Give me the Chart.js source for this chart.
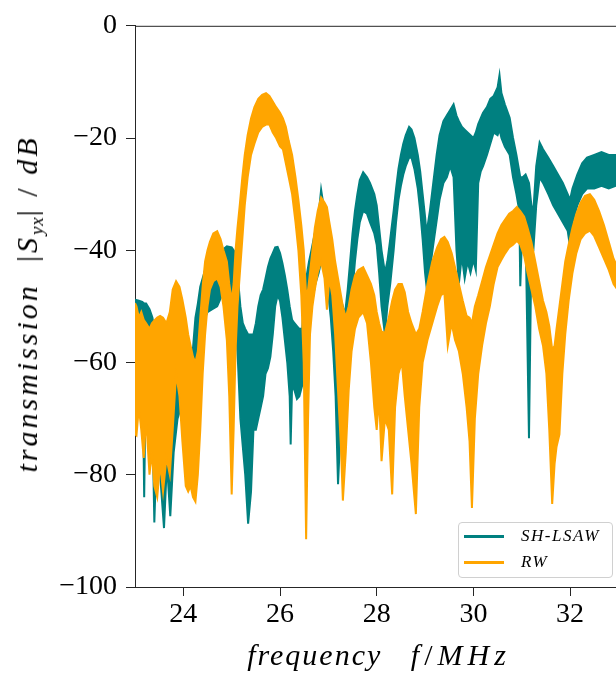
<!DOCTYPE html>
<html>
<head>
<meta charset="utf-8">
<script src="https://cdn.jsdelivr.net/npm/chart.js@4.4.0/dist/chart.umd.min.js"></script>
<style>
html, body { margin: 0; padding: 0; background: #fff; overflow: hidden; }
#wrap { position: relative; width: 616px; height: 673px; }
canvas { display: block; }
.ytitle { position: absolute; left: 29px; top: 304px; transform: translate(-50%, -50%) rotate(-90deg);
  font-family: "Liberation Serif", serif; font-style: italic; font-size: 30px; white-space: nowrap;
  letter-spacing: 3px; color: #000; }
.xtitle { position: absolute; left: 379px; top: 655px; transform: translate(-50%, -50%);
  font-family: "Liberation Serif", serif; font-style: italic; font-size: 30px; white-space: nowrap;
  letter-spacing: 2px; color: #000; }
.wide { letter-spacing: 5px; }
.up { font-style: normal; }
sub { font-size: 19px; vertical-align: -6px; letter-spacing: 1px; }
.legend { position: absolute; left: 458px; top: 522px; width: 155px; height: 56px; box-sizing: border-box;
  border: 1px solid #d0d0d0; border-radius: 4px; background: rgba(255,255,255,0.8);
  font-family: "Liberation Serif", serif; font-style: italic; font-size: 17px; color: #000; }
.item { position: absolute; left: 5px; height: 20px; width: 148px; }
.sw { position: absolute; left: 0; top: 9px; width: 40px; height: 3px; }
.lt { position: absolute; left: 57px; top: 0; line-height: 20px; letter-spacing: 1.5px; white-space: nowrap; }
</style>
</head>
<body>
<div id="wrap">
  <canvas id="c" width="616" height="673"></canvas>
  <div class="ytitle">transmission&nbsp;&nbsp;<span class="up">|</span>S<sub>yx</sub><span class="up">|</span>&nbsp;<span class="up">/</span>&nbsp;dB</div>
  <div class="xtitle">frequency&nbsp;&nbsp;&nbsp;<span class="wide">f<span class="up">/</span>MHz</span></div>
  <div class="legend">
    <div class="item" style="top:3px"><span class="sw" style="background:#008080"></span><span class="lt" id="l0"></span></div>
    <div class="item" style="top:29px"><span class="sw" style="background:#FFA500"></span><span class="lt" id="l1"></span></div>
  </div>
</div>
<script>
// ---- data ----
const seriesNames = ["SH-LSAW", "RW"];
const xTicks = [24, 26, 28, 30, 32];
const yTicks = [-100, -80, -60, -40, -20, 0];

// SH-LSAW: frequency (MHz), upper and lower edge of the noisy trace (dB)
const shFreq = [23.00,23.08,23.15,23.19,23.23,23.30,23.36,23.40,23.45,23.52,23.60,23.66,23.73,23.80,23.88,23.95,24.02,24.10,24.18,24.25,24.30,24.35,24.40,24.45,24.50,24.60,24.70,24.80,24.90,25.00,25.08,25.13,25.18,25.23,25.28,25.34,25.40,25.45,25.50,25.55,25.60,25.65,25.70,25.75,25.80,25.85,25.90,25.95,26.00,26.05,26.10,26.15,26.20,26.22,26.25,26.30,26.35,26.40,26.46,26.50,26.55,26.60,26.65,26.73,26.80,26.85,26.90,26.95,27.00,27.05,27.10,27.15,27.20,27.25,27.30,27.34,27.40,27.45,27.50,27.55,27.60,27.65,27.72,27.80,27.86,27.95,28.00,28.05,28.10,28.17,28.22,28.28,28.35,28.40,28.45,28.50,28.55,28.60,28.67,28.72,28.78,28.85,28.90,28.95,29.00,29.03,29.10,29.17,29.24,29.30,29.38,29.45,29.52,29.59,29.65,29.70,29.76,29.82,29.88,29.94,30.00,30.05,30.10,30.15,30.20,30.28,30.35,30.42,30.50,30.54,30.58,30.65,30.75,30.82,30.89,30.95,30.97,31.02,31.08,31.15,31.20,31.24,31.30,31.37,31.44,31.55,31.65,31.75,31.85,31.95,32.00,32.05,32.15,32.25,32.35,32.50,32.65,32.80,32.95];
const shHigh = [-48.8,-49,-49.2,-49.5,-49.5,-50.5,-52,-54,-55,-56,-56,-56,-55.5,-55,-55,-55.5,-56,-58,-59.5,-52,-49.5,-46.5,-45,-43.5,-43,-43.5,-44,-40,-39.3,-39.5,-40.5,-45,-50,-53,-54,-55,-55,-55,-53,-50,-48,-47,-45,-43,-41.5,-40.5,-39.5,-39.4,-40.5,-42.3,-44.5,-47,-50,-51,-52.4,-53,-53.5,-54,-54,-48,-44.6,-42,-40,-36.5,-33.5,-29.2,-32,-34.7,-38,-41,-44,-46,-47,-48.5,-50,-51.7,-47,-42,-37,-33,-30,-27.5,-26.1,-27,-28,-30,-32,-36,-40,-44,-42,-38,-33,-29,-25.5,-23,-21,-19.5,-18,-18.5,-20,-23,-26,-30,-34,-37,-33,-28,-23,-19.5,-17,-16,-15,-14,-16,-17,-18,-18.5,-19,-19.5,-20,-19,-17.5,-16.5,-15.5,-14.5,-13,-12.5,-11,-8.8,-12,-14,-16.4,-20,-23,-26,-27,-27,-26.5,-28,-32,-33,-25,-20.8,-22,-23.5,-25,-26.5,-28,-30,-31,-29,-26.5,-24.5,-23.5,-23,-22.5,-23,-23];
const shLow = [-52,-53,-55,-84,-58,-60,-70,-88.5,-75,-80,-89.5,-78,-87.4,-76,-70,-68,-72,-66,-64,-60,-57,-55,-53,-52,-51,-50.5,-50,-48,-47,-48,-52,-60,-70,-75,-80,-88.7,-83,-72,-72,-70,-68,-66,-62,-61,-59,-55,-50,-48,-49,-52,-56,-60,-66,-74.6,-64,-65,-66.5,-66,-64,-62,-56,-52,-50,-46,-44,-42,-42,-45,-48,-52,-58,-66,-81.7,-72,-64,-60,-57,-52,-47,-42,-38,-35,-33,-33.5,-35,-37,-39,-44,-50,-55,-50,-46,-40,-35,-31,-28.5,-26.5,-25,-23.5,-23.5,-25.5,-29,-33,-38,-44,-46.4,-43.5,-39,-34.7,-31,-28,-27,-25,-27,-40,-45.9,-41,-45,-42,-44,-41.7,-43.5,-28,-26,-25,-23,-21,-19,-19.5,-18.5,-20,-21.5,-23,-27,-30,-33,-46.4,-34,-36.5,-73.5,-40,-40,-32,-27,-28,-30,-32,-33.5,-35,-36.5,-39.4,-35,-32,-30,-29,-29,-28.5,-29,-28.5];

// RW: frequency (MHz), upper and lower edge of the noisy trace (dB)
const rwFreq = [23.00,23.03,23.08,23.13,23.18,23.23,23.30,23.35,23.40,23.46,23.52,23.58,23.65,23.72,23.78,23.85,23.92,23.98,24.05,24.10,24.15,24.20,24.25,24.30,24.35,24.40,24.45,24.50,24.55,24.62,24.70,24.77,24.83,24.90,24.95,25.00,25.04,25.08,25.12,25.17,25.22,25.27,25.33,25.40,25.47,25.55,25.63,25.71,25.78,25.85,25.92,26.00,26.06,26.12,26.18,26.25,26.32,26.38,26.44,26.49,26.54,26.58,26.62,26.67,26.72,26.78,26.85,26.92,26.97,27.02,27.08,27.14,27.20,27.26,27.30,27.36,27.42,27.48,27.55,27.62,27.72,27.80,27.88,27.95,28.00,28.05,28.10,28.17,28.25,28.32,28.38,28.45,28.52,28.58,28.65,28.72,28.81,28.88,28.95,29.05,29.15,29.25,29.33,29.40,29.47,29.55,29.62,29.70,29.78,29.86,29.92,29.97,30.03,30.10,30.18,30.26,30.34,30.42,30.50,30.58,30.66,30.74,30.82,30.90,30.97,31.05,31.12,31.20,31.28,31.36,31.44,31.51,31.57,31.63,31.68,31.72,31.78,31.84,31.90,31.97,32.05,32.13,32.22,32.31,32.41,32.50,32.60,32.70,32.80,32.90,32.98];
const rwHigh = [-49.4,-50,-52,-51,-52.4,-53,-54,-53,-52.5,-52,-51.7,-52,-53,-51,-47,-45.5,-46.5,-48.8,-52,-55,-57,-59,-60,-58,-52,-46.4,-42,-40,-38.5,-37,-36.6,-38,-40,-42,-46,-49,-46,-40,-36,-31.7,-27,-23,-19.5,-16.5,-14.5,-13,-12.3,-12,-12.5,-13.5,-14.5,-15.5,-16.5,-18,-20.5,-23,-27,-31,-35.5,-40,-48,-47,-44,-40,-36,-33,-30.6,-31.5,-32.3,-35,-38,-42,-45,-48,-50,-52,-50,-47,-44.5,-43.5,-43,-44.5,-46,-48,-51,-53,-54.5,-54.7,-52,-49,-47,-46,-46,-47.5,-51,-53,-55,-54,-51,-46,-42,-39.5,-38,-37.6,-38.5,-40.5,-43,-46,-49,-51.7,-52,-53,-50,-48,-45.5,-43,-41,-39,-37,-35.5,-34.5,-33.5,-33,-32.3,-33,-34,-36,-38.5,-42,-45.5,-49,-51,-53.5,-57.7,-57,-54,-50,-46,-42,-39,-36,-33.5,-31.5,-30.3,-30,-31,-33,-35.5,-38.5,-41.5,-43];
const rwLow = [-72.8,-73,-68,-72,-77,-70,-80,-76,-82,-84,-78,-83,-77,-80,-72,-62,-66,-74,-82,-83,-82,-84,-84.8,-80,-72,-62,-55,-50,-47,-45.5,-45,-46.5,-50,-56,-66,-83.5,-72,-58,-50,-44,-38,-32,-27,-23,-21,-19,-18,-17.6,-17.6,-19,-20,-21.5,-22,-24.5,-27,-30,-35,-40,-48,-60,-91.5,-70,-55,-50,-47,-44,-42,-45,-50.6,-45,-48,-55,-65,-75,-84.6,-76,-65,-58,-54,-52,-51,-53,-60,-68,-72,-66,-77.6,-70,-72,-83.5,-68,-62,-60,-66,-72,-78,-87,-68,-60,-56,-53,-50,-48,-47.6,-57,-53,-56,-58,-62,-68,-74,-85.9,-70,-62,-57,-53,-50,-46,-43,-41.7,-40.5,-39.5,-39,-38.3,-39,-41,-44,-47,-50,-54,-57,-62,-72,-85.2,-78,-75,-72.8,-62,-55,-49,-44,-40.5,-38,-37,-36.5,-37.5,-39.5,-41.5,-43.5,-46,-47];

// ---- chart ----
const TEAL = "#008080", ORANGE = "#FFA500", AXIS = "#262626";
const pts = (fs, vs) => fs.map((f, i) => ({ x: f, y: vs[i] }));
const band = (fs, hi, lo, color, order) => [
  { data: pts(fs, hi), borderColor: color, borderWidth: 2, pointRadius: 0, tension: 0, fill: false, order: order },
  { data: pts(fs, lo), borderColor: color, borderWidth: 2, pointRadius: 0, tension: 0, fill: "-1", backgroundColor: color, order: order }
];

document.getElementById("l0").textContent = seriesNames[0];
document.getElementById("l1").textContent = seriesNames[1];

const topSpine = {
  id: "topSpine",
  afterDraw(chart) {
    const { ctx, chartArea } = chart;
    ctx.save();
    ctx.strokeStyle = AXIS; ctx.lineWidth = 1;
    ctx.beginPath();
    ctx.moveTo(chartArea.left, chartArea.top + 0.5);
    ctx.lineTo(chartArea.right, chartArea.top + 0.5);
    ctx.stroke();
    ctx.restore();
  }
};

const tickFont = { family: "Liberation Serif", size: 28 };
const minus = v => (v < 0 ? "\u2212" + Math.abs(v) : String(v));

new Chart(document.getElementById("c"), {
  type: "line",
  data: { datasets: [...band(shFreq, shHigh, shLow, TEAL, 2), ...band(rwFreq, rwHigh, rwLow, ORANGE, 1)] },
  options: {
    responsive: false, animation: false, events: [],
    layout: { padding: { top: 20, right: 0, left: 0, bottom: 0 } },
    plugins: { legend: { display: false }, tooltip: { enabled: false } },
    scales: {
      x: {
        type: "linear", min: 23, max: 32.95,
        afterBuildTicks: s => { s.ticks = xTicks.map(v => ({ value: v })); },
        afterFit: s => { s.height = 86; },
        ticks: { font: tickFont, color: "#000", padding: 2, callback: minus },
        grid: { drawOnChartArea: false, drawTicks: true, tickLength: 9, color: AXIS, lineWidth: 1 },
        border: { display: true, color: AXIS, width: 1 }
      },
      y: {
        type: "linear", min: -100, max: 0,
        afterBuildTicks: s => { s.ticks = yTicks.map(v => ({ value: v })); },
        afterFit: s => { s.width = 135; },
        ticks: { font: tickFont, color: "#000", padding: 9, callback: minus },
        grid: { drawOnChartArea: false, drawTicks: true, tickLength: 9, color: AXIS, lineWidth: 1 },
        border: { display: true, color: AXIS, width: 1 }
      }
    }
  },
  plugins: [topSpine]
});
</script>
</body>
</html>
